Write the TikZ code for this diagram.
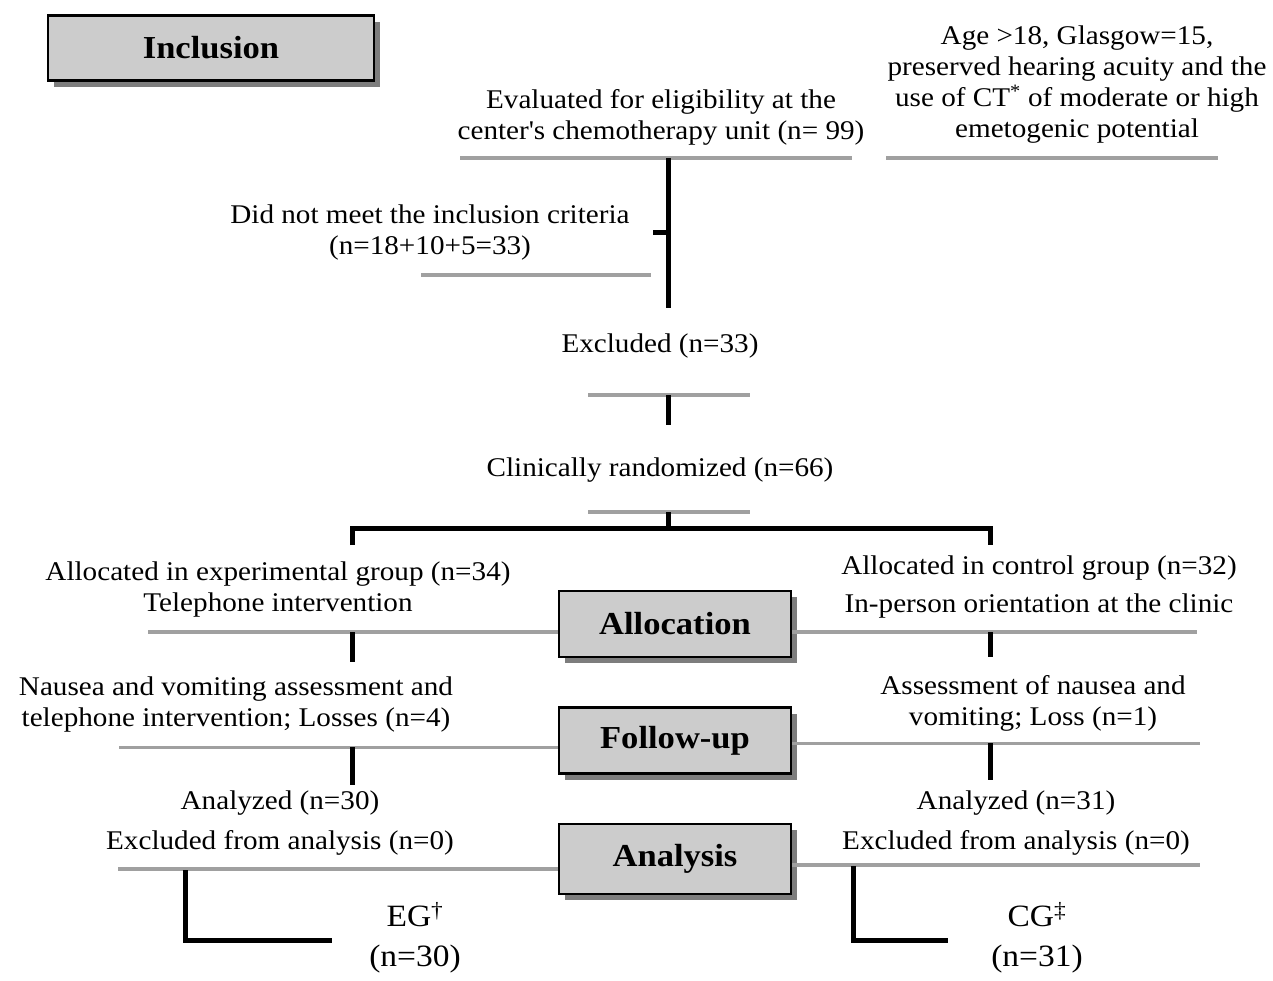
\documentclass[tikz,border=0pt]{standalone}
\usepackage{fontspec}
\setmainfont{Liberation Serif}[FakeStretch=1.08]
\usepackage{tikz}
\definecolor{phasegray}{RGB}{204,204,204}
\definecolor{rulegray}{RGB}{160,160,160}
\definecolor{shadegray}{RGB}{125,125,125}
\usetikzlibrary{
  positioning,
  shadows,
}
\tikzset{
  phase/.style={draw,rectangle,line width=2.5pt,fill=phasegray,minimum width=232pt,minimum height=66pt,
    font=\fontsize{32}{36}\selectfont\bfseries,
    drop shadow={fill=shadegray,opacity=1,shadow xshift=6pt,shadow yshift=-6pt}},
  txt/.style={align=center,inner sep=0pt,font=\fontsize{27}{31}\selectfont},
  bigtxt/.style={align=center,inner sep=0pt,font=\fontsize{31}{36}\selectfont},
  rule/.style={draw=rulegray,line width=3.5pt},
  flow/.style={draw=black,line width=5pt},
}

\begin{document}
\begin{tikzpicture}[x=1pt,y=-1pt,node distance=48pt and 0pt]
    \useasboundingbox (0,0) rectangle (1273,980);

    \node[phase,minimum width=326pt,minimum height=65pt] (incl) at (211,48) {Inclusion};
    \node[phase] (alloc) at (675,624) {Allocation};
    \node[phase] (follow) [below=of alloc] {Follow-up};
    \node[phase,minimum height=70pt] (anal) [below=of follow] {Analysis};

    \node[txt] (eval) at (661,117) {Evaluated for eligibility at the\\center\textquotesingle s chemotherapy unit (n= 99)};
    \node[txt] (crit) at (1077,85) {Age >18, Glasgow=15,\\preserved hearing acuity and the\\use of CT\textsuperscript{*} of moderate or high\\emetogenic potential};
    \node[txt] (notmet) at (430,233) {Did not meet the inclusion criteria\\(n=18+10+5=33)};
    \node[txt] (excl) at (660,346) {Excluded (n=33)};
    \node[txt] (rand) at (660,470) {Clinically randomized (n=66)};

    \node[txt] (expalloc) at (278,589) {Allocated in experimental group (n=34)\\Telephone intervention};
    \node[txt] (ctlalloc) at (1039,587) {Allocated in control group (n=32)\\[7pt]In-person orientation at the clinic};
    \node[txt] (expfol) at (236,704) {Nausea and vomiting assessment and\\telephone intervention; Losses (n=4)};
    \node[txt] (ctlfol) at (1033,703) {Assessment of nausea and\\vomiting; Loss (n=1)};
    \node[txt] (expana) at (280,823) {Analyzed (n=30)\\[9pt]Excluded from analysis (n=0)};
    \node[txt] (ctlana) at (1016,823) {Analyzed (n=31)\\[9pt]Excluded from analysis (n=0)};
    \node[bigtxt] (eg) at (415,938) {EG\textsuperscript{†}\\[4pt](n=30)};
    \node[bigtxt] (cg) at (1037,938) {CG\textsuperscript{‡}\\[4pt](n=31)};

    \draw[rule] (460,158) -- (852,158);
    \draw[rule] (886,158) -- (1218,158);
    \draw[rule] (421,275) -- (651,275);
    \draw[rule] (588,395) -- (750,395);
    \draw[rule] (588,512) -- (750,512);
    \draw[rule] ([yshift=-8pt]alloc.west) -- ++(-410,0);
    \draw[rule] ([yshift=-8pt]alloc.east) -- ++(405,0);
    \draw[rule] ([yshift=-7pt]follow.west) -- ++(-439,0);
    \draw[rule] ([yshift=-3pt]follow.east) -- ++(408,0);
    \draw[rule] ([yshift=-10pt]anal.west) -- ++(-440,0);
    \draw[rule] ([yshift=-6pt]anal.east) -- ++(408,0);

    \coordinate (trunk) at (668,158);
    \coordinate (stub) at (653,232);
    \coordinate (split) at (668,528);
    \coordinate (expleg) at (352,545);
    \coordinate (ctlleg) at (990,545);
    \coordinate (egend) at (332,940);
    \coordinate (cgend) at (948,940);

    \draw[flow] (trunk) -- (668,308);
    \draw[flow] (stub) -- (stub -| trunk);
    \draw[flow] (668,395) -- (668,425);
    \draw[flow] (668,512) -- (split);
    \draw[flow] (expleg) |- (split) -| (ctlleg);
    \draw[flow] (352,632) -- (352,662);
    \draw[flow] (990,632) -- (990,657);
    \draw[flow] (352,747) -- (352,785);
    \draw[flow] (990,743) -- (990,780);
    \draw[flow] (185,870) |- (egend);
    \draw[flow] (853,866) |- (cgend);
\end{tikzpicture}
\end{document}
